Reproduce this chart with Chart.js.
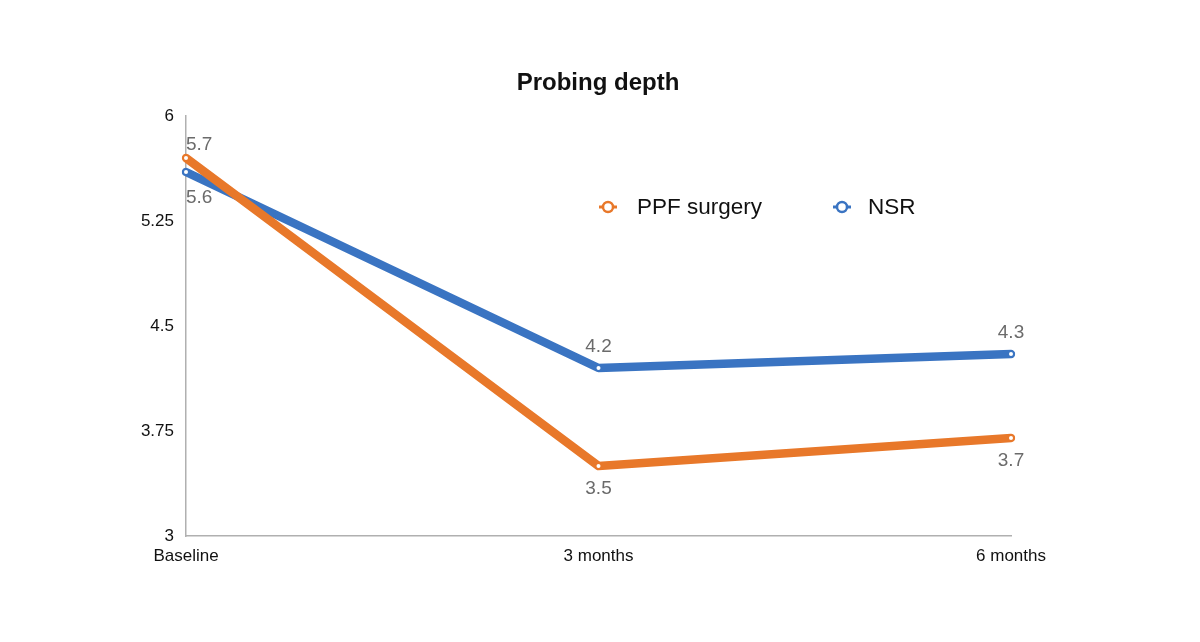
<!DOCTYPE html>
<html>
<head>
<meta charset="utf-8">
<script src="https://cdn.jsdelivr.net/npm/chart.js@4/dist/chart.umd.min.js"></script>
<style>
  html, body { margin: 0; padding: 0; background: #fff; }
  #wrap { width: 1200px; height: 642px; }
</style>
</head>
<body>
<div id="wrap"><canvas id="c" width="1200" height="642"></canvas></div>
<script>
const categories = ["Baseline", "3 months", "6 months"];
const ppfSurgery = [5.7, 3.5, 3.7];
const nsr = [5.6, 4.2, 4.3];
const yTicks = [3, 3.75, 4.5, 5.25, 6];
const seriesNames = ["PPF surgery", "NSR"];
const seriesColors = ["#E8782A", "#3A74C2"];
const chartTitle = "Probing depth";

const FONT = "'Liberation Sans', Arial, Helvetica, sans-serif";

const labelPlugin = {
  id: 'pointLabels',
  afterDatasetsDraw(chart) {
    const ctx = chart.ctx;
    ctx.save();
    ctx.font = "19px " + FONT;
    ctx.fillStyle = "#6b6b6b";
    ctx.textBaseline = "middle";
    const ds = chart.data.datasets;
    ds.forEach((d, di) => {
      const meta = chart.getDatasetMeta(di);
      meta.data.forEach((pt, i) => {
        const v = d.data[i];
        const others = ds.filter((_, k) => k !== di).map(o => o.data[i]);
        const above = others.every(o => v >= o);
        let y;
        if (i === 0) y = above ? pt.y - 13 : pt.y + 26;
        else y = above ? pt.y - 21 : pt.y + 23;
        ctx.textAlign = i === 0 ? "left" : "center";
        ctx.fillText(String(v), pt.x, y);
      });
    });
    ctx.restore();
  }
};

const legendPlugin = {
  id: 'customLegend',
  afterDraw(chart) {
    const ctx = chart.ctx;
    const markerX = [608, 842];
    const textX = [637, 868];
    const y = 207;
    ctx.save();
    chart.data.datasets.forEach((d, i) => {
      const cx = markerX[i];
      ctx.strokeStyle = d.borderColor;
      ctx.lineWidth = 3;
      ctx.beginPath();
      ctx.moveTo(cx - 9, y); ctx.lineTo(cx + 9, y);
      ctx.stroke();
      ctx.beginPath();
      ctx.arc(cx, y, 5, 0, Math.PI * 2);
      ctx.fillStyle = "#fff";
      ctx.fill();
      ctx.lineWidth = 2.5;
      ctx.stroke();
      ctx.fillStyle = "#111";
      ctx.font = "22.5px " + FONT;
      ctx.textAlign = "left";
      ctx.textBaseline = "middle";
      ctx.fillText(d.label, textX[i], y + 1);
    });
    ctx.restore();
  }
};

const titlePlugin = {
  id: 'customTitle',
  afterDraw(chart) {
    const ctx = chart.ctx;
    ctx.save();
    ctx.font = "bold 24px " + FONT;
    ctx.fillStyle = "#111";
    ctx.textAlign = "center";
    ctx.textBaseline = "middle";
    ctx.fillText(chartTitle, 598, 83);
    ctx.restore();
  }
};

new Chart(document.getElementById('c'), {
  type: 'line',
  data: {
    labels: categories,
    datasets: [
      { label: seriesNames[0], data: ppfSurgery, borderColor: seriesColors[0], backgroundColor: seriesColors[0] },
      { label: seriesNames[1], data: nsr, borderColor: seriesColors[1], backgroundColor: seriesColors[1] }
    ]
  },
  options: {
    responsive: false,
    animation: false,
    devicePixelRatio: 1,
    layout: { padding: { left: 134, right: 189, top: 116, bottom: 66 } },
    elements: {
      line: { borderWidth: 8.5, tension: 0, borderCapStyle: 'round', borderJoinStyle: 'round' },
      point: { radius: 2, backgroundColor: '#fff', borderWidth: 0, hoverRadius: 2 }
    },
    datasets: { line: { pointBackgroundColor: '#fff', pointBorderWidth: 0, pointRadius: 2 } },
    plugins: {
      legend: { display: false },
      tooltip: { enabled: false },
      title: { display: false }
    },
    scales: {
      x: {
        offset: false,
        grid: { display: false, drawTicks: false },
        border: { display: true, color: '#b0b0b0', width: 1.5 },
        ticks: { color: '#111', font: { family: FONT, size: 17 }, padding: 10, maxRotation: 0, autoSkip: false },
        afterFit(scale) { scale.height = 40; }
      },
      y: {
        min: 3, max: 6,
        grid: { display: false, drawTicks: false },
        border: { display: true, color: '#b0b0b0', width: 1.5 },
        afterBuildTicks(scale) { scale.ticks = yTicks.map(v => ({ value: v })); },
        ticks: { color: '#111', font: { family: FONT, size: 17 }, padding: 12,
                 callback: (v) => String(v) },
        afterFit(scale) { scale.width = 52; }
      }
    }
  },
  plugins: [labelPlugin, legendPlugin, titlePlugin]
});
</script>
</body>
</html>
